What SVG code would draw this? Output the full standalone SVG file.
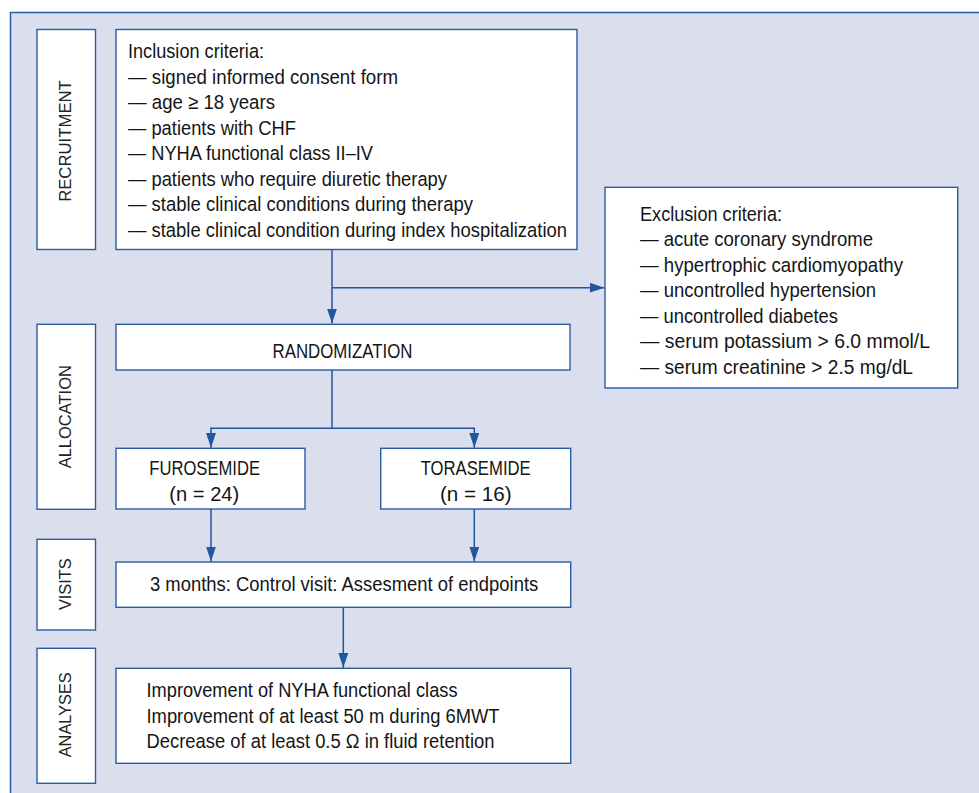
<svg xmlns="http://www.w3.org/2000/svg" width="979" height="793" viewBox="0 0 979 793">
  <defs>
    <style>
      .panel { fill: #dadeed; stroke: #2a5da5; stroke-width: 1.5; }
      .box { fill: #ffffff; stroke: #2a5da5; stroke-width: 1.4; }
      .conn { fill: none; stroke: #1f57a0; stroke-width: 1.5; }
      text { font-family: "Liberation Sans", Arial, sans-serif; fill: #151515; }
      .t { font-size: 20.5px; }
      .lbl { font-size: 16.5px; text-anchor: middle; fill: #222; }
    </style>
    <marker id="arr" markerUnits="userSpaceOnUse" markerWidth="15" markerHeight="10" refX="15" refY="5" orient="auto">
      <path d="M0,0 L15,5 L0,10 Z" fill="#1f57a0"/>
    </marker>
  </defs>

  <rect x="0" y="0" width="979" height="793" fill="#ffffff"/>
  <rect class="panel" x="10.5" y="12.5" width="1000" height="1000"/>

  <g id="label-recruitment">
    <rect class="box" x="37" y="29.5" width="58.5" height="220"/>
    <text class="lbl" x="71" y="141" transform="rotate(-90 71 141)" textLength="121.7" lengthAdjust="spacingAndGlyphs">RECRUITMENT</text>
  </g>
  <g id="label-allocation">
    <rect class="box" x="37" y="324.3" width="58.5" height="185"/>
    <text class="lbl" x="71" y="416.7" transform="rotate(-90 71 416.7)" textLength="103.3" lengthAdjust="spacingAndGlyphs">ALLOCATION</text>
  </g>
  <g id="label-visits">
    <rect class="box" x="37" y="539.3" width="58.5" height="90.7"/>
    <text class="lbl" x="71" y="584.2" transform="rotate(-90 71 584.2)" textLength="51.7" lengthAdjust="spacingAndGlyphs">VISITS</text>
  </g>
  <g id="label-analyses">
    <rect class="box" x="37" y="648.3" width="58.5" height="135"/>
    <text class="lbl" x="71" y="714.8" transform="rotate(-90 71 714.8)" textLength="85" lengthAdjust="spacingAndGlyphs">ANALYSES</text>
  </g>

  <g id="inclusion">
    <rect class="box" x="116" y="29.5" width="461" height="220"/>
    <text class="t" x="128" y="58.3" textLength="136" lengthAdjust="spacingAndGlyphs">Inclusion criteria:</text>
    <text class="t" x="128" y="83.8" textLength="270" lengthAdjust="spacingAndGlyphs">— signed informed consent form</text>
    <text class="t" x="128" y="109.3" textLength="147" lengthAdjust="spacingAndGlyphs">— age ≥ 18 years</text>
    <text class="t" x="128" y="134.8" textLength="168" lengthAdjust="spacingAndGlyphs">— patients with CHF</text>
    <text class="t" x="128" y="160.3" textLength="245" lengthAdjust="spacingAndGlyphs">— NYHA functional class II–IV</text>
    <text class="t" x="128" y="185.8" textLength="319" lengthAdjust="spacingAndGlyphs">— patients who require diuretic therapy</text>
    <text class="t" x="128" y="211.3" textLength="345" lengthAdjust="spacingAndGlyphs">— stable clinical conditions during therapy</text>
    <text class="t" x="128" y="236.8" textLength="439" lengthAdjust="spacingAndGlyphs">— stable clinical condition during index hospitalization</text>
  </g>

  <g id="exclusion">
    <rect class="box" x="605" y="187.3" width="352.7" height="200.7"/>
    <text class="t" x="640" y="220.7" textLength="142" lengthAdjust="spacingAndGlyphs">Exclusion criteria:</text>
    <text class="t" x="640" y="246.2" textLength="233" lengthAdjust="spacingAndGlyphs">— acute coronary syndrome</text>
    <text class="t" x="640" y="271.8" textLength="263" lengthAdjust="spacingAndGlyphs">— hypertrophic cardiomyopathy</text>
    <text class="t" x="640" y="297.3" textLength="236" lengthAdjust="spacingAndGlyphs">— uncontrolled hypertension</text>
    <text class="t" x="640" y="322.9" textLength="198" lengthAdjust="spacingAndGlyphs">— uncontrolled diabetes</text>
    <text class="t" x="640" y="348.4" textLength="290" lengthAdjust="spacingAndGlyphs">— serum potassium &gt; 6.0 mmol/L</text>
    <text class="t" x="640" y="374" textLength="273" lengthAdjust="spacingAndGlyphs">— serum creatinine &gt; 2.5 mg/dL</text>
  </g>

  <g id="randomization">
    <rect class="box" x="116" y="324.3" width="454" height="45.7"/>
    <text class="t" x="272.5" y="358.3" textLength="140" lengthAdjust="spacingAndGlyphs">RANDOMIZATION</text>
  </g>

  <g id="furosemide">
    <rect class="box" x="116" y="448.3" width="189" height="60.7"/>
    <text class="t" x="149.3" y="475" textLength="110.7" lengthAdjust="spacingAndGlyphs">FUROSEMIDE</text>
    <text class="t" x="169.3" y="500.5" textLength="70" lengthAdjust="spacingAndGlyphs">(n = 24)</text>
  </g>

  <g id="torasemide">
    <rect class="box" x="380.7" y="448.3" width="190" height="60.7"/>
    <text class="t" x="420.7" y="475" textLength="110" lengthAdjust="spacingAndGlyphs">TORASEMIDE</text>
    <text class="t" x="440" y="500.5" textLength="71.7" lengthAdjust="spacingAndGlyphs">(n = 16)</text>
  </g>

  <g id="visits">
    <rect class="box" x="116" y="562" width="454.7" height="45.3"/>
    <text class="t" x="150" y="590.5" textLength="388.3" lengthAdjust="spacingAndGlyphs">3 months: Control visit: Assesment of endpoints</text>
  </g>

  <g id="analyses">
    <rect class="box" x="116" y="668.3" width="454.7" height="95"/>
    <text class="t" x="146.5" y="697.3" textLength="311" lengthAdjust="spacingAndGlyphs">Improvement of NYHA functional class</text>
    <text class="t" x="146.5" y="722.8" textLength="353" lengthAdjust="spacingAndGlyphs">Improvement of at least 50 m during 6MWT</text>
    <text class="t" x="146.5" y="748.3" textLength="348" lengthAdjust="spacingAndGlyphs">Decrease of at least 0.5 Ω in fluid retention</text>
  </g>

  <g id="connectors">
    <line class="conn" x1="332" y1="249.5" x2="332" y2="323.5" marker-end="url(#arr)"/>
    <line class="conn" x1="332" y1="287.7" x2="604.5" y2="287.7" marker-end="url(#arr)"/>
    <polyline class="conn" points="332,370 332,428.3"/>
    <line class="conn" x1="211" y1="428.3" x2="474.3" y2="428.3"/>
    <line class="conn" x1="211" y1="427.6" x2="211" y2="447.8" marker-end="url(#arr)"/>
    <line class="conn" x1="474.3" y1="427.6" x2="474.3" y2="447.8" marker-end="url(#arr)"/>
    <line class="conn" x1="211" y1="509" x2="211" y2="561.5" marker-end="url(#arr)"/>
    <line class="conn" x1="474.3" y1="509" x2="474.3" y2="561.5" marker-end="url(#arr)"/>
    <line class="conn" x1="343.3" y1="607.3" x2="343.3" y2="667.8" marker-end="url(#arr)"/>
  </g>
</svg>
